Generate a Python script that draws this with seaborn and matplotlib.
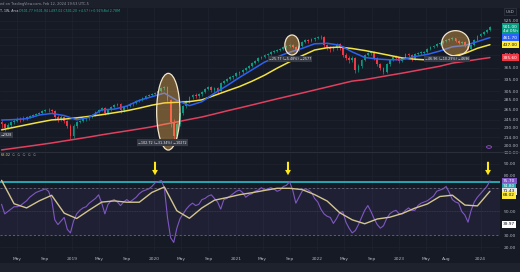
import numpy as np
import pandas as pd
import matplotlib
matplotlib.use("Agg")
import matplotlib.pyplot as plt
import matplotlib.transforms as mtrans
from matplotlib.patches import Ellipse, Rectangle, FancyArrowPatch, Circle
from matplotlib.lines import Line2D
from matplotlib.ticker import FixedLocator, FixedFormatter, NullLocator
import seaborn as sns

# ---------------- data ----------------
candle_start = "2018-02-19"          # bi-weekly candles
open_first = 240.0
closes = [236.6, 229.4, 234.8, 240.3, 242.2, 246.0, 244.1, 247.9, 249.8, 251.7,
          253.7, 255.7, 257.6, 261.7, 263.7, 263.0, 261.7, 249.8, 246.0, 249.8,
          242.2, 233.0, 215.7, 233.0, 240.3, 242.2, 246.0, 247.9, 249.8, 253.7,
          259.7, 263.7, 267.8, 257.6, 263.7, 269.9, 274.1, 276.2, 263.7, 269.9,
          272.0, 276.2, 278.4, 282.7, 284.9, 289.3, 293.8, 296.1, 298.4, 300.8,
          305.4, 312.6, 315.0, 284.9, 240.3, 215.7, 236.6, 257.6, 272.0, 282.7,
          291.6, 296.1, 293.8, 298.4, 303.1, 310.2, 315.0, 307.8, 312.6, 305.4,
          324.9, 330.0, 335.1, 340.3, 343.0, 351.1, 352.5, 359.3, 364.9, 370.6,
          379.3, 385.2, 394.2, 397.3, 403.5, 406.6, 413.0, 416.2, 419.4, 422.7,
          429.3, 432.6, 436.0, 429.3, 419.4, 432.6, 446.2, 453.2, 449.7, 456.7,
          460.2, 463.8, 462.5, 436.0, 429.3, 422.7, 425.9, 439.4, 425.9, 403.5,
          394.2, 388.2, 394.2, 359.3, 370.6, 388.2, 403.5, 409.8, 413.0, 394.2,
          376.4, 364.9, 353.8, 376.4, 388.2, 397.3, 394.2, 385.2, 394.2, 406.6,
          403.5, 391.2, 406.6, 409.8, 411.0, 413.0, 422.7, 429.3, 432.6, 439.4,
          442.8, 449.7, 453.2, 456.7, 460.2, 449.7, 442.8, 446.2, 432.6, 422.7,
          436.0, 453.2, 467.4, 474.7, 482.1, 489.6, 501.0]
highs = [245, 239, 238, 243, 246, 249, 249, 251, 252, 254,
         256, 258, 260, 264, 266, 267, 266, 263, 253, 254,
         252, 245, 236, 236, 243, 245, 248, 250, 252, 256,
         262, 266, 270, 269, 266, 272, 276, 279, 278, 272,
         275, 278, 281, 285, 287, 291, 296, 298, 301, 303,
         308, 315, 318, 317, 287, 246, 240, 260, 274, 285,
         294, 299, 300, 301, 306, 313, 318, 318, 316, 315,
         327, 333, 338, 343, 346, 354, 356, 362, 368, 374,
         382, 388, 397, 401, 407, 410, 416, 420, 423, 426,
         433, 436, 440, 439, 432, 436, 450, 457, 458, 461,
         465, 469, 470, 466, 441, 433, 432, 444, 442, 428,
         410, 399, 400, 397, 375, 392, 407, 414, 417, 416,
         397, 380, 368, 380, 392, 401, 403, 398, 398, 410,
         410, 406, 410, 413, 415, 417, 426, 433, 436, 443,
         447, 453, 457, 460, 464, 462, 452, 450, 449, 436,
         439, 456, 470, 478, 485, 493, 504]
lows = [230, 224, 227, 232, 237, 240, 241, 242, 245, 247,
        249, 251, 253, 255, 259, 260, 257, 245, 241, 243,
        238, 229, 211, 213, 230, 238, 240, 243, 245, 247,
        251, 257, 261, 253, 255, 261, 267, 271, 258, 260,
        266, 269, 273, 276, 280, 283, 287, 291, 293, 296,
        298, 303, 309, 280, 232, 205, 212, 233, 253, 268,
        279, 288, 289, 290, 295, 300, 307, 303, 304, 301,
        302, 322, 327, 332, 336, 340, 347, 349, 356, 361,
        367, 376, 382, 390, 393, 399, 402, 409, 412, 415,
        419, 425, 428, 425, 414, 416, 429, 442, 444, 445,
        451, 455, 456, 428, 418, 414, 415, 420, 420, 398,
        388, 380, 383, 352, 354, 366, 384, 400, 405, 389,
        371, 359, 348, 350, 372, 384, 389, 380, 381, 390,
        398, 386, 388, 403, 405, 407, 410, 419, 425, 429,
        435, 439, 446, 449, 452, 445, 438, 438, 428, 418,
        419, 433, 450, 464, 471, 479, 487]

rsi = [56, 48, 50, 52, 54, 54, 55, 57, 59, 62,
       64, 66, 67, 68, 69, 67, 60, 43, 39, 42,
       45, 35, 32, 42, 48, 51, 53, 54, 57, 59,
       61, 64, 57, 48, 56, 59, 60, 58, 55, 58,
       60, 58, 60, 62, 65, 67, 68, 69, 71, 74,
       75, 76, 70, 45, 28, 24, 36, 44, 48, 52,
       55, 57, 55, 56, 60, 61, 63, 64, 61, 58,
       52, 60, 61, 63, 65, 67, 68, 66, 62, 64,
       65, 67, 68, 70, 68, 69, 70, 69, 67, 68,
       71, 72, 75, 68, 57, 62, 67, 69, 68, 66,
       61, 58, 52, 48, 46, 45, 40, 44, 49, 50,
       41, 36, 32, 34, 39, 45, 51, 55, 50, 44,
       39, 36, 38, 44, 48, 50, 51, 48, 48, 51,
       53, 51, 51, 55, 57, 58, 59, 61, 63, 67,
       68, 69, 71, 66, 60, 58, 57, 50, 47, 41,
       51, 58, 62, 65, 68, 71, 75.7]

# moving averages sampled every 4th candle
ma_blue = [244.1, 244.9, 246.6, 253.7, 256.8, 252.7, 244.5, 249.2, 264.1, 265.5,
           272.0, 284.2, 292.3, 300.6, 284.0, 272.8, 281.3, 300.3, 318.5, 339.3,
           359.9, 382.0, 397.6, 412.4, 424.6, 440.1, 441.8, 435.3, 413.3, 396.1,
           391.2, 388.8, 389.4, 398.8, 405.3, 416.2, 430.0, 434.3, 447.6, 461.7]
ma_yellow = [226.2, 230.7, 235.3, 239.9, 244.3, 245.8, 248.2, 251.1, 254.3, 258.2,
             262.3, 267.6, 273.8, 278.6, 279.9, 281.4, 285.3, 295.2, 305.6, 316.2,
             329.5, 345.2, 364.4, 382.8, 401.4, 419.4, 426.9, 429.0, 424.3, 417.8,
             410.1, 402.3, 394.5, 390.6, 388.5, 393.0, 399.8, 408.6, 425.0, 437.0]
ma_red = [193.7, 196.3, 198.9, 201.6, 204.4, 207.6, 210.8, 214.1, 217.7, 221.1,
          224.4, 227.9, 231.6, 236.2, 240.5, 245.3, 249.9, 255.8, 262.0, 268.0,
          274.3, 280.8, 287.5, 294.1, 300.8, 307.8, 315.0, 322.4, 329.8, 333.6,
          339.3, 345.1, 350.8, 357.1, 363.5, 370.0, 379.0, 384.3, 390.0, 395.6]
rsi_ma = [76.2, 56.5, 53.0, 58.9, 63.6, 48.6, 44.1, 51.2, 57.9, 58.9,
          57.8, 57.8, 66.0, 70.6, 50.6, 44.3, 53.0, 59.5, 61.7, 64.1,
          65.8, 67.7, 69.5, 69.5, 68.4, 64.2, 58.8, 49.0, 43.0, 39.7,
          43.7, 45.2, 48.3, 52.8, 56.3, 62.6, 63.7, 55.4, 54.7, 67.0]
rsi_level = 74.8

price_ticks = [525, 495, 465, 435, 405, 365, 335, 305, 285, 265, 245, 230, 214, 200]
price_tick_labels = ["525.00", "", "", "", "405.00", "365.00", "335.00", "305.00",
                     "285.00", "265.00", "245.00", "230.00", "214.00", "200.00"]
rsi_ticks = [100, 90, 80, 70, 50, 30, 20]
rsi_tick_labels = ["100.00", "90.00", "80.00", "", "50.00", "30.00", "20.00"]
time_ticks = ["2018-05-01", "2018-09-01", "2019-01-01", "2019-05-01", "2019-09-01",
              "2020-01-01", "2020-05-01", "2020-09-01", "2021-01-01", "2021-05-01",
              "2021-09-01", "2022-01-01", "2022-05-01", "2022-09-01", "2023-01-01",
              "2023-05-01", "2023-08-01", "2024-01-01"]
time_labels = ["May", "Sep", "2019", "May", "Sep", "2020", "May", "Sep", "2021", "May",
               "Sep", "2022", "May", "Sep", "2023", "May", "Aug", "2024"]

# ---------------- style ----------------
BG = "#161a25"
GRID = "#1f2330"
TXT = "#b2b5be"
UP, DOWN = "#089981", "#f23645"

sns.set_theme(style="dark", rc={"axes.facecolor": BG, "figure.facecolor": BG,
                                 "axes.edgecolor": BG})
plt.rcParams["font.family"] = ["DejaVu Sans"]

W, H = 520, 272
fig = plt.figure(figsize=(W / 100, H / 100), dpi=100, facecolor=BG)


def fx(x):
    return x / W


def fy(y):
    return 1 - y / H


# strips
fig.add_artist(Rectangle((0, fy(8)), 1, 8 / H, transform=fig.transFigure,
                         fc="#1c202b", ec="none", zorder=0))
fig.add_artist(Rectangle((0, 0), 1, 9 / H, transform=fig.transFigure,
                         fc="#1e222d", ec="none", zorder=0))

ax = fig.add_axes([0, fy(151), fx(500), (151 - 8) / H])
axr = fig.add_axes([0, fy(251), fx(500), (251 - 152) / H], sharex=ax)
for a in (ax, axr):
    a.set_facecolor(BG)
    for s in a.spines.values():
        s.set_visible(False)

# ---------------- price panel ----------------
dates = pd.date_range(candle_start, periods=len(closes), freq="14D")
c = np.array(closes)
o = np.array([open_first] + closes[:-1])
low = np.minimum(o, c)
h = np.maximum(np.abs(c - o), low * 0.004)
cols = [UP if cc >= oo else DOWN for oo, cc in zip(o, c)]
ax.vlines(dates, lows, highs, colors=cols, linewidth=0.5, zorder=3)
ax.bar(dates, h, bottom=low, width=8, color=cols, linewidth=0, zorder=3)

ma_dates = dates[::4]
df_ma = pd.DataFrame({"date": ma_dates, "blue": ma_blue, "yellow": ma_yellow, "red": ma_red})
sns.lineplot(data=df_ma, x="date", y="red", ax=ax, color="#e0405e", linewidth=1.1, zorder=4)
sns.lineplot(data=df_ma, x="date", y="yellow", ax=ax, color="#f2e342", linewidth=1.1, zorder=4)
sns.lineplot(data=df_ma, x="date", y="blue", ax=ax, color="#2d62f0", linewidth=1.1, zorder=4)

ax.set_yscale("log")
ax.set_ylim(192.1, 580.4)
ax.set_xlim(pd.Timestamp("2018-02-12"), pd.Timestamp("2024-03-28"))
ax.yaxis.set_major_locator(FixedLocator(price_ticks))
ax.yaxis.set_major_formatter(FixedFormatter(price_tick_labels))
ax.yaxis.set_minor_locator(NullLocator())
ax.tick_params(axis="y", which="both", left=False, right=False, labelleft=False,
               labelright=True, length=0, pad=2.5, labelsize=3.2, labelcolor=TXT)
ax.tick_params(axis="x", which="both", labelbottom=False, length=0)
ax.set_xlabel("")
ax.set_ylabel("")
ax.grid(True, color=GRID, linewidth=0.5)

# ---------------- RSI panel ----------------
axr.axhspan(30, 70, color="#7e57c2", alpha=0.10, lw=0, zorder=1)
axr.axhline(70, color="#787b86", lw=0.5, ls=(0, (3, 3)), zorder=2)
axr.axhline(30, color="#787b86", lw=0.5, ls=(0, (3, 3)), zorder=2)
axr.axhline(50, color="#787b86", lw=0.4, ls=(0, (1, 2)), alpha=0.5, zorder=2)
axr.axhline(rsi_level, color="#27a6b3", lw=1.4, zorder=2)
df_rsi = pd.DataFrame({"date": dates, "rsi": rsi})
df_rsi_ma = pd.DataFrame({"date": ma_dates, "ma": rsi_ma})
sns.lineplot(data=df_rsi, x="date", y="rsi", ax=axr, color="#7e57c2", linewidth=0.8, zorder=4)
sns.lineplot(data=df_rsi_ma, x="date", y="ma", ax=axr, color="#d3c58e", linewidth=1.0, zorder=5)
axr.set_ylim(16.8, 100)
axr.yaxis.set_major_locator(FixedLocator(rsi_ticks))
axr.yaxis.set_major_formatter(FixedFormatter(rsi_tick_labels))
axr.tick_params(axis="y", left=False, right=False, labelleft=False, labelright=True,
                length=0, pad=2.5, labelsize=3.2, labelcolor=TXT)
axr.set_xticks(pd.to_datetime(time_ticks))
axr.set_xticklabels(time_labels)
axr.tick_params(axis="x", length=0, pad=4, labelsize=3.2, labelcolor=TXT)
axr.set_xlabel("")
axr.set_ylabel("")
axr.grid(True, color=GRID, linewidth=0.5)

# panel separator
fig.add_artist(Line2D([0, 1], [fy(151.5), fy(151.5)], transform=fig.transFigure,
                      color="#2a2e39", lw=0.8))

# ---------------- right-scale value boxes ----------------
def box(axis, yval, text, fc, tc, dy=0):
    tr = mtrans.blended_transform_factory(axis.transAxes, axis.transData)
    tr = tr + mtrans.ScaledTranslation(0, -dy / 100, fig.dpi_scale_trans)
    axis.text(1.006, yval, text, transform=tr, fontsize=3.1, color=tc, ha="left",
              va="center", clip_on=False, zorder=10,
              bbox=dict(boxstyle="square,pad=0.3", fc=fc, ec="none"))

box(ax, closes[-1], f"{closes[-1]:.2f}\n4d 05h", UP, "white", dy=2)
box(ax, ma_blue[-1], f"{ma_blue[-1]:.2f}", "#2962ff", "white")
box(ax, ma_yellow[-1], f"{ma_yellow[-1]:.2f}", "#ffeb3b", "#131722")
box(ax, ma_red[-1], f"{ma_red[-1]:.2f}", DOWN, "white")
box(axr, rsi[-1], f"{rsi[-1]:.2f}", "#7e57c2", "white")
box(axr, rsi_level, f"{rsi_level:.2f}", "#27a6b3", "white", dy=4)
box(axr, rsi_level, "71.43", "#e8e8e8", "#131722", dy=9.5)
box(axr, rsi_level, f"{68.02:.2f}", "#ffeb3b", "#131722", dy=13.5)
box(axr, 39.1, "39.97", "white", "#131722")

fig.text(fx(510), fy(11.6), "USD", fontsize=3.0, color=TXT, ha="center", va="center",
         bbox=dict(boxstyle="square,pad=0.35", fc=BG, ec="#3a3e4a", lw=0.4))

# ---------------- header ----------------
fig.text(fx(0), fy(4), "ed on TradingView.com, Feb 12, 2024 19:53 UTC-5", fontsize=2.5,
         color="#9598a1", va="center", ha="left")
fig.text(fx(0), fy(11), "T, 1W, Arca", fontsize=2.3, color="#c9ccd3", va="center", ha="left")
fig.text(fx(19), fy(11), "O501.77 H501.94 L497.02 C501.20 +4.57 (+0.92%)", fontsize=2.3,
         color="#22ab94", va="center", ha="left")
fig.text(fx(104), fy(11), "Vol 2.78M", fontsize=2.3, color="#22ab94", va="center", ha="left")
fig.text(fx(1), fy(155), "68.02", fontsize=2.5, color="#e8d24a", va="center", ha="left")
fig.text(fx(12), fy(155), "\u2205  \u2205  \u2205  \u2205  \u2205", fontsize=2.4, color="#9598a1",
         va="center", ha="left")

# ---------------- ellipses & measure labels ----------------
for (cx, cy, w, hh) in [(168.3, 111.7, 23.3, 76.7), (292.0, 45.0, 14.3, 20.0),
                        (455.5, 43.3, 27.6, 25.3)]:
    fig.add_artist(Ellipse((fx(cx), fy(cy)), w / W, hh / H, transform=fig.transFigure,
                           fc=(1.0, 0.72, 0.30, 0.38), ec="#f3e6c9", lw=0.9, zorder=5))

for (cx, cy, t, ha) in [(162.5, 142.5, "\u2212102.72 (\u221231.34%) \u221210272", "center"),
                        (290.0, 59.0, "\u221225.77 (\u22125.48%) \u22122577", "center"),
                        (447.0, 59.0, "\u221246.96 (\u221210.29%) \u22124696", "center"),
                        (0.5, 135.0, "\u22122928", "left")]:
    fig.text(fx(cx), fy(cy), t, fontsize=2.4, color="#e8e9ec", ha=ha, va="center", zorder=6,
             bbox=dict(boxstyle="square,pad=0.35", fc="#363a45", ec="none"))

fig.add_artist(Circle((fx(489), fy(147)), 2.5 / W, transform=fig.transFigure,
                      fc="none", ec="#9c4fd6", lw=0.6, zorder=6))

# ---------------- yellow arrows ----------------
for xa in (155, 288, 488):
    fig.add_artist(FancyArrowPatch((fx(xa), fy(159)), (fx(xa), fy(178)),
                                   transform=fig.transFigure,
                                   arrowstyle="simple,head_width=4.2,head_length=3.8,tail_width=1.5",
                                   mutation_scale=1, color="#ffe81a", lw=0, zorder=8))

fig.savefig("out.png", dpi=100, facecolor=BG)
